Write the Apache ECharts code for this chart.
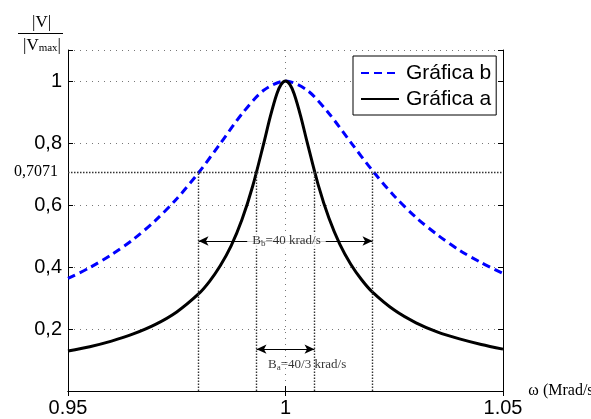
<!DOCTYPE html>
<html>
<head>
<meta charset="utf-8">
<script src="https://cdn.jsdelivr.net/npm/echarts@6.0.0/dist/echarts.min.js"></script>
<style>
  html, body { margin: 0; padding: 0; background: #fff; }
  #resonance { width: 591px; height: 419px; }
</style>
</head>
<body>
<div id="resonance"></div>
<script>
// curve b (wide band)
var omegaB = [0.95, 0.955, 0.96, 0.965, 0.97, 0.975, 0.98, 0.985, 0.99, 0.995, 1,
  1.005, 1.01, 1.015, 1.02, 1.025, 1.03, 1.035, 1.04, 1.045, 1.05];
var gainB = [0.363, 0.398, 0.440, 0.489, 0.549, 0.620, 0.704, 0.798, 0.894, 0.970, 1,
  0.970, 0.895, 0.802, 0.711, 0.629, 0.560, 0.503, 0.454, 0.414, 0.379];

// curve a (narrow band)
var omegaA = [0.95, 0.955, 0.96, 0.965, 0.97, 0.975, 0.98, 0.9825, 0.985, 0.9875, 0.99, 0.9925, 0.995,
  0.9965, 0.998, 0.999, 1, 1.001, 1.002, 1.0035, 1.005, 1.0075, 1.01, 1.0125, 1.015, 1.0175, 1.02,
  1.025, 1.03, 1.035, 1.04, 1.045, 1.05];
var gainA = [0.129, 0.143, 0.161, 0.184, 0.214, 0.255, 0.313, 0.353, 0.404, 0.468, 0.553, 0.663, 0.799,
  0.885, 0.958, 0.989, 1, 0.989, 0.958, 0.886, 0.801, 0.666, 0.557, 0.473, 0.409, 0.359, 0.319,
  0.261, 0.220, 0.190, 0.168, 0.150, 0.135];

var seriesNames = ["Gráfica b", "Gráfica a"];
var halfPower = 0.7071;
var halfPowerLabel = "0,7071";
var bandB = [0.98, 1.02];          // edges of band b
var bandA = [0.99333, 1.00667];    // edges of band a
var arrowB = 0.484;                // height of the Bb arrow
var arrowA = 0.135;                // height of the Ba arrow
var noteB = [0.9912, 0.484];
var noteA = [0.996, 0.084];

var sans = "'Liberation Sans', Arial, sans-serif";
var serif = "'Liberation Serif', 'Times New Roman', serif";

function zip(xs, ys) {
  return xs.map(function (x, i) { return [x, ys[i]]; });
}

var guideStyle = { color: "#333", width: 1.4, type: [1.5, 1.5] };

var option = {
  animation: false,
  backgroundColor: "#fff",
  grid: { left: 68, right: 88, top: 50, bottom: 28, outerBoundsMode: "none" },
  legend: {
    data: seriesNames,
    orient: "vertical",
    left: 353,
    top: 56,
    width: 144,
    padding: [6, 5, 5, 7],
    itemGap: 4,
    itemWidth: 38,
    itemHeight: 14,
    itemStyle: { opacity: 0 },
    backgroundColor: "#fff",
    borderColor: "#000",
    borderWidth: 1,
    borderRadius: 0,
    textStyle: { fontFamily: sans, fontSize: 21, color: "#000", lineHeight: 22, padding: [0, 0, 0, 2] },
  },
  graphic: [
    {
      type: "text", left: 32, top: 14,
      style: { text: "|V|", font: "17px " + serif, fill: "#000" },
    },
    {
      type: "rect", shape: { x: 18, y: 33, width: 45, height: 1 },
      style: { fill: "#000" },
    },
    {
      type: "text", left: 23, top: 37,
      style: {
        text: "|V{s|max}|",
        font: "17px " + serif, fill: "#000",
        rich: { s: { fontFamily: serif, fontSize: 11, verticalAlign: "bottom", padding: [6, 0, 0, 0] } },
      },
    },
  ],
  xAxis: [
    {
      type: "value",
      min: 0.95,
      max: 1.05,
      interval: 0.05,
      name: "ω (Mrad/s)",
      nameLocation: "end",
      nameGap: 11,
      nameTextStyle: { fontFamily: serif, fontSize: 16, color: "#000", padding: [0, 0, 14, 0] },
      axisLine: { lineStyle: { color: "#000", width: 1 } },
      axisTick: { inside: true, length: 5, lineStyle: { color: "#000" } },
      axisLabel: {
        margin: 7,
        fontFamily: sans, fontSize: 20, color: "#000",
        formatter: function (v) { return String(+v.toFixed(2)); },
      },
      splitLine: { show: true, lineStyle: { color: "#777", type: [1, 5], width: 1 } },
    },
    {
      type: "value", position: "top", min: 0.95, max: 1.05, interval: 0.05,
      axisLine: { lineStyle: { color: "#000", width: 1 } },
      axisTick: { inside: true, length: 5, lineStyle: { color: "#000" } },
      axisLabel: { show: false },
      splitLine: { show: false },
    },
  ],
  yAxis: [
    {
      type: "value",
      min: 0,
      max: 1.1,
      interval: 0.2,
      axisLine: { show: true, lineStyle: { color: "#000", width: 1 } },
      axisTick: { show: true, inside: true, length: 5, lineStyle: { color: "#000" } },
      axisLabel: {
        margin: 6,
        fontFamily: sans, fontSize: 20, color: "#000",
        formatter: function (v) {
          if (v < 0.01 || v > 1.05) return "";
          return String(+v.toFixed(1)).replace(".", ",");
        },
      },
      splitLine: { show: true, lineStyle: { color: "#777", type: [1, 5], width: 1 } },
    },
    {
      type: "value", position: "right", min: 0, max: 1.1, interval: 0.2,
      axisLine: { show: true, lineStyle: { color: "#000", width: 1 } },
      axisTick: { show: true, inside: true, length: 5, lineStyle: { color: "#000" } },
      axisLabel: { show: false },
      splitLine: { show: false },
    },
  ],
  series: [
    {
      name: "guides",
      type: "line",
      data: [],
      markLine: {
        silent: true,
        symbol: "none",
        lineStyle: guideStyle,
        label: { show: false },
        data: [
          [
            {
              coord: [0.95, halfPower],
              label: {
                show: true, position: "start", distance: 10,
                formatter: halfPowerLabel, fontFamily: serif, fontSize: 16, color: "#000",
              },
            },
            { coord: [1.05, halfPower] },
          ],
          [{ coord: [bandB[0], 0] }, { coord: [bandB[0], halfPower] }],
          [{ coord: [bandB[1], 0] }, { coord: [bandB[1], halfPower] }],
          [{ coord: [bandA[0], 0] }, { coord: [bandA[0], halfPower] }],
          [{ coord: [bandA[1], 0] }, { coord: [bandA[1], halfPower] }],
        ],
      },
    },
    {
      name: seriesNames[0],
      type: "line",
      data: zip(omegaB, gainB),
      symbol: "none",
      smooth: 0.3,
      lineStyle: { color: "#0000ff", width: 3, type: [8, 5] },
      itemStyle: { color: "#0000ff" },
    },
    {
      name: seriesNames[1],
      type: "line",
      data: zip(omegaA, gainA),
      symbol: "none",
      smooth: 0.3,
      lineStyle: { color: "#000", width: 3 },
      itemStyle: { color: "#000" },
    },
    {
      name: "notes",
      type: "scatter",
      symbolSize: 0,
      z: 5,
      data: [
        {
          value: noteB,
          label: {
            show: true, position: "right", distance: 0,
            backgroundColor: "#fff", padding: [1, 5],
            formatter: "B{s|b}=40 krad/s",
          },
        },
        {
          value: noteA,
          label: {
            show: true, position: "right", distance: 0,
            formatter: "B{s|a}=40/3 krad/s",
          },
        },
      ],
      label: {
        fontFamily: serif, fontSize: 13, color: "#000",
        rich: { s: { fontFamily: serif, fontSize: 9, verticalAlign: "bottom", padding: [5, 0, 0, 0] } },
      },
      markLine: {
        silent: true,
        symbol: ["arrow", "arrow"],
        symbolSize: [7, 10],
        lineStyle: { color: "#000", width: 1, type: "solid" },
        label: { show: false },
        data: [
          [{ coord: [bandB[0], arrowB] }, { coord: [bandB[1], arrowB] }],
          [{ coord: [bandA[0], arrowA] }, { coord: [bandA[1], arrowA] }],
        ],
      },
    },
  ],
};

var myChart = echarts.init(document.getElementById("resonance"));
myChart.setOption(option);
</script>
</body>
</html>
